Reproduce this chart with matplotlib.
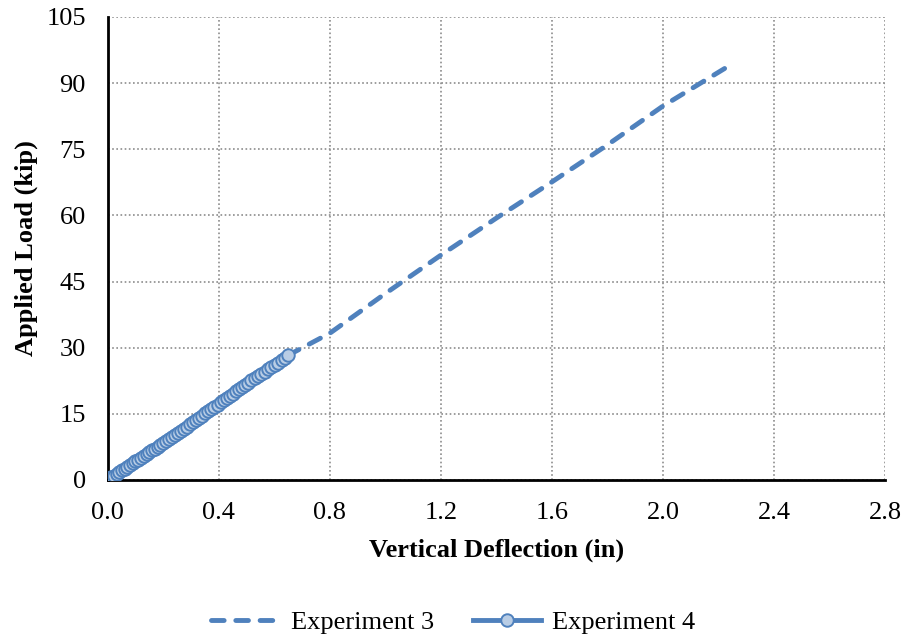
import matplotlib.pyplot as plt

plt.rcParams['font.family'] = ['Liberation Serif', 'DejaVu Serif']

# Experiment 3: load-deflection record (dashed)
exp3_defl = [0.0, 0.2, 0.4, 0.65, 0.8, 1.0, 1.2, 1.4, 1.6, 1.8, 2.0, 2.24]
exp3_load = [0.0, 8.3, 16.8, 28.3, 33.3, 42.3, 51.0, 59.4, 67.6, 76.0, 84.8, 94.0]

# Experiment 4: load-deflection record (markers)
exp4_defl = [0.000, 0.005, 0.012, 0.022, 0.031, 0.040, 0.050, 0.060, 0.069, 0.079,
             0.089, 0.099, 0.109, 0.119, 0.129, 0.139, 0.149, 0.159, 0.169, 0.179,
             0.189, 0.199, 0.210, 0.220, 0.231, 0.242, 0.252, 0.263, 0.274, 0.285,
             0.296, 0.307, 0.318, 0.329, 0.340, 0.351, 0.362, 0.373, 0.384, 0.395,
             0.406, 0.417, 0.428, 0.439, 0.450, 0.461, 0.472, 0.483, 0.495, 0.506,
             0.517, 0.529, 0.541, 0.553, 0.565, 0.577, 0.589, 0.601, 0.613, 0.626,
             0.638, 0.650]
exp4_load = [0.0, 0.2, 0.6, 1.0, 1.4, 1.8, 2.2, 2.6, 3.0, 3.4,
             3.8, 4.2, 4.6, 5.0, 5.4, 5.9, 6.3, 6.7, 7.1, 7.5,
             7.9, 8.4, 8.8, 9.3, 9.7, 10.2, 10.7, 11.1, 11.6, 12.1,
             12.6, 13.1, 13.6, 14.1, 14.6, 15.1, 15.6, 16.1, 16.6, 17.1,
             17.6, 18.1, 18.6, 19.1, 19.6, 20.1, 20.6, 21.1, 21.6, 22.1,
             22.6, 23.1, 23.6, 24.1, 24.6, 25.1, 25.6, 26.1, 26.6, 27.1,
             27.7, 28.4]

x_ticks = [0.0, 0.4, 0.8, 1.2, 1.6, 2.0, 2.4, 2.8]
y_ticks = [0, 15, 30, 45, 60, 75, 90, 105]

blue = '#4f81bd'
light_blue = '#b9cde5'

fig = plt.figure(figsize=(9.07, 6.41), dpi=100)
ax = fig.add_axes([0.119, 0.2512, 0.8567, 0.7223])

ax.plot(exp3_defl, exp3_load, color=blue, lw=3.5, ls=(0, (2.6, 2.4)),
        dash_capstyle='round', label='Experiment 3', zorder=3)
ax.plot(exp4_defl, exp4_load, color=blue, lw=3.5, marker='o', markersize=9,
        markerfacecolor=light_blue, markeredgecolor=blue, markeredgewidth=1.4,
        label='Experiment 4', zorder=4)

ax.set_xlim(0, 2.8)
ax.set_ylim(0, 105)
ax.set_xticks(x_ticks)
ax.set_xticklabels([f'{v:.1f}' for v in x_ticks])
ax.set_yticks(y_ticks)
ax.tick_params(length=0, labelsize=19)
ax.tick_params(axis='x', pad=16)
ax.tick_params(axis='y', pad=16)

ax.grid(True, color='#8c8c8c', ls=(0, (1, 1.5)), lw=1.2)
ax.set_axisbelow(True)
for side in ['top', 'right']:
    ax.spines[side].set_visible(False)
for side in ['left', 'bottom']:
    ax.spines[side].set_linewidth(2)
    ax.spines[side].set_color('black')

ax.set_xlabel('Vertical Deflection (in)', fontsize=19, fontweight='bold', labelpad=10)
ax.set_ylabel('Applied Load (kip)', fontsize=19, fontweight='bold', labelpad=6)

fig.legend(loc='center', bbox_to_anchor=(0.5, 0.029), ncol=2, frameon=False,
           fontsize=19, handlelength=2.55, columnspacing=1.5, handletextpad=0.45)

fig.savefig('out.png', dpi=100)
